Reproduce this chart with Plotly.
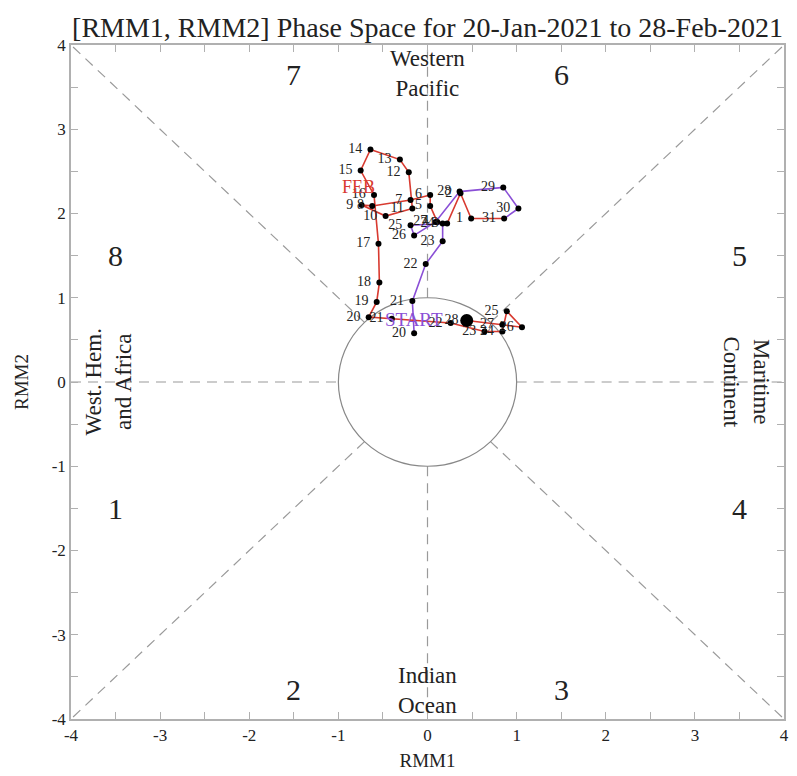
import plotly.graph_objects as go
import numpy as np

# ---- data ----
jan_days = [20, 21, 22, 23, 24, 25, 26, 27, 28, 29, 30, 31]
jan_rmm1 = [-0.15, -0.17, -0.02, 0.17, 0.17, -0.19, -0.15, 0.09, 0.36, 0.85, 1.02, 0.86]
jan_rmm2 = [0.58, 0.96, 1.40, 1.67, 1.88, 1.86, 1.74, 1.90, 2.26, 2.31, 2.06, 1.94]

feb_days = list(range(1, 29))
feb_rmm1 = [0.49, 0.37, 0.22, 0.11, 0.03, 0.03, -0.19, -0.62, -0.74, -0.47,
            -0.17, -0.21, -0.31, -0.64, -0.75, -0.60, -0.55, -0.54, -0.57, -0.66,
            -0.40, 0.26, 0.64, 0.84, 0.89, 1.06, 0.84, 0.44]
feb_rmm2 = [1.94, 2.24, 1.88, 1.90, 2.09, 2.22, 2.16, 2.09, 2.10, 1.97,
            2.06, 2.49, 2.64, 2.76, 2.51, 2.22, 1.64, 1.18, 0.95, 0.77,
            0.75, 0.70, 0.60, 0.60, 0.84, 0.65, 0.68, 0.73]

phase_labels = ["1", "2", "3", "4", "5", "6", "7", "8"]
phase_x = [-3.5, -1.5, 1.5, 3.5, 3.5, 1.5, -1.5, -3.5]
phase_y = [-1.5, -3.65, -3.65, -1.5, 1.5, 3.65, 3.65, 1.5]

region_labels = ["Western<br>Pacific", "Indian<br>Ocean", "West. Hem.<br>and Africa", "Maritime<br>Continent"]

SERIF = "Liberation Serif"
PURPLE = "#8a4fd6"
RED = "#d83a30"
GRID = "#9a9a9a"
INK = "#222222"

fig = go.Figure()

# guide lines
shapes = []
dash = dict(color=GRID, width=1.2, dash="10px,7px")
s = np.sqrt(0.5)
for sx in (-1, 1):
    for sy in (-1, 1):
        shapes.append(dict(type="line", x0=sx * s, y0=sy * s, x1=sx * 4, y1=sy * 4, line=dash, layer="below"))
shapes.append(dict(type="line", x0=-4, y0=0, x1=-1, y1=0, line=dash, layer="below"))
shapes.append(dict(type="line", x0=1, y0=0, x1=4, y1=0, line=dash, layer="below"))
shapes.append(dict(type="line", x0=0, y0=1, x1=0, y1=4, line=dash, layer="below"))
shapes.append(dict(type="line", x0=0, y0=-1, x1=0, y1=-4, line=dash, layer="below"))
shapes.append(dict(type="circle", x0=-1, y0=-1, x1=1, y1=1, line=dict(color="#888888", width=1.2), layer="below"))

# lines
fig.add_trace(go.Scatter(x=jan_rmm1, y=jan_rmm2, mode="lines",
                         line=dict(color=PURPLE, width=1.6), hoverinfo="skip", showlegend=False))
fig.add_trace(go.Scatter(x=[jan_rmm1[-1]] + feb_rmm1, y=[jan_rmm2[-1]] + feb_rmm2, mode="lines",
                         line=dict(color=RED, width=1.6), hoverinfo="skip", showlegend=False))

# markers + day labels
for days, xs, ys in ((jan_days, jan_rmm1, jan_rmm2), (feb_days, feb_rmm1, feb_rmm2)):
    fig.add_trace(go.Scatter(x=xs, y=ys, mode="markers+text",
                             text=[str(d) + " " for d in days], textposition="middle left",
                             textfont=dict(family=SERIF, size=14, color=INK),
                             marker=dict(color="black", size=6),
                             showlegend=False))

# end marker
fig.add_trace(go.Scatter(x=[feb_rmm1[-1]], y=[feb_rmm2[-1]], mode="markers",
                         marker=dict(color="black", size=13), showlegend=False))

annotations = []
for t, x, y in zip(phase_labels, phase_x, phase_y):
    annotations.append(dict(x=x, y=y, text=t, showarrow=False,
                            font=dict(family=SERIF, size=30, color=INK)))

annotations.append(dict(x=0, y=3.66, text=region_labels[0], showarrow=False,
                        font=dict(family=SERIF, size=23, color=INK)))
annotations.append(dict(x=0, y=-3.66, text=region_labels[1], showarrow=False,
                        font=dict(family=SERIF, size=23, color=INK)))
annotations.append(dict(x=-3.58, y=0, text=region_labels[2], showarrow=False, textangle=-90,
                        font=dict(family=SERIF, size=23, color=INK)))
annotations.append(dict(x=3.58, y=0, text=region_labels[3], showarrow=False, textangle=90,
                        font=dict(family=SERIF, size=23, color=INK)))

annotations.append(dict(x=jan_rmm1[0], y=jan_rmm2[0], yshift=14, text="START", showarrow=False,
                        font=dict(family=SERIF, size=19, color=PURPLE)))
annotations.append(dict(x=-0.77, y=2.31, text="FEB", showarrow=False,
                        font=dict(family=SERIF, size=18, color=RED)))

axis_common = dict(range=[-4, 4], showgrid=False, zeroline=False,
                   showline=True, mirror="ticks", linecolor="#b0b0b0", linewidth=1.5,
                   ticks="inside", ticklen=7, tickcolor="#b0b0b0", tickwidth=1,
                   tickvals=[v / 2 for v in range(-8, 9)],
                   ticktext=[str(int(v / 2)) if v % 2 == 0 else "" for v in range(-8, 9)],
                   tickfont=dict(family=SERIF, size=17, color=INK))

fig.update_layout(
    width=789, height=768,
    margin=dict(l=63, r=8, t=37, b=56),
    font=dict(family=SERIF, color=INK),
    paper_bgcolor="white", plot_bgcolor="white",
    title=dict(text="[RMM1, RMM2] Phase Space for 20-Jan-2021 to 28-Feb-2021",
               x=0.5, xref="paper", xanchor="center", y=0.988, yanchor="top",
               font=dict(family=SERIF, size=28, color=INK)),
    xaxis=dict(**axis_common, title=dict(text="RMM1", font=dict(family=SERIF, size=19, color=INK), standoff=10)),
    yaxis=dict(**axis_common, title=dict(text="RMM2", font=dict(family=SERIF, size=19, color=INK), standoff=18)),
    shapes=shapes,
    annotations=annotations,
)

fig.write_html("out.html")
